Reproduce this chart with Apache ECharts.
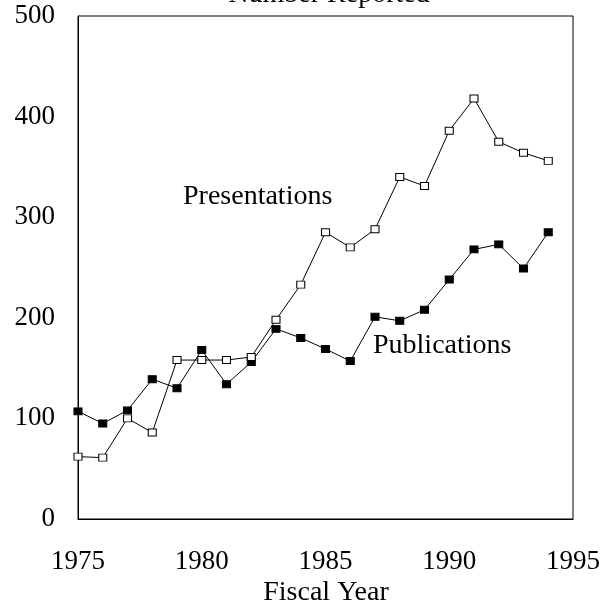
<!DOCTYPE html>
<html>
<head>
<meta charset="utf-8">
<script src="https://cdn.jsdelivr.net/npm/echarts@6/dist/echarts.min.js"></script>
<style>html,body{margin:0;padding:0;background:#fff;}#c{width:605px;height:608px;}</style>
</head>
<body>
<div id="c"></div>
<script>
var years = [1975,1976,1977,1978,1979,1980,1981,1982,1983,1984,1985,1986,1987,1988,1989,1990,1991,1992,1993,1994];
var presentations = [62,61,100,86,158,158,158,161,198,233,285,270,288,340,331,386,418,375,364,356];
var publications = [107,95,108,139,130,168,134,156,189,180,169,157,201,197,208,238,268,273,249,285];
var xTicks = [1975,1980,1985,1990,1995];
var yTicks = [0,100,200,300,400,500];
var titleText = 'Number Reported';
var xTitle = 'Fiscal Year';
var seriesNames = ['Presentations','Publications'];

var FONT = '"Liberation Serif","Times New Roman",serif';
function pairs(v){ return years.map(function(y,i){ return [y, v[i]]; }); }

var chart = echarts.init(document.getElementById('c'), null, {renderer:'canvas'});
chart.setOption({
  backgroundColor:'#fff',
  animation:false,
  grid:{left:78,right:32,top:16,bottom:89,show:true,borderColor:'#000',borderWidth:1,backgroundColor:'transparent'},
  xAxis:{type:'value',min:xTicks[0],max:xTicks[xTicks.length-1],interval:5,
    axisLine:{show:true,lineStyle:{color:'#000',width:1}},axisTick:{show:false},splitLine:{show:false},
    axisLabel:{color:'#000',fontFamily:FONT,fontSize:27,margin:43,verticalAlign:'middle',formatter:function(v){return String(v);}}},
  yAxis:{type:'value',min:yTicks[0],max:yTicks[yTicks.length-1],interval:100,
    axisLine:{show:true,lineStyle:{color:'#000',width:1}},axisTick:{show:false},splitLine:{show:false},
    axisLabel:{color:'#000',fontFamily:FONT,fontSize:27,margin:23}},
  graphic:[
    {type:'text',style:{text:titleText,x:329,y:-5,textAlign:'center',textVerticalAlign:'middle',font:'28px '+FONT,fill:'#000'}},
    {type:'text',style:{text:xTitle,x:326,y:593,textAlign:'center',textVerticalAlign:'middle',font:'28px '+FONT,fill:'#000'}},
    {type:'text',style:{text:seriesNames[0],x:183,y:197,textAlign:'left',textVerticalAlign:'middle',font:'28px '+FONT,fill:'#000'}},
    {type:'text',style:{text:seriesNames[1],x:373,y:346,textAlign:'left',textVerticalAlign:'middle',font:'28px '+FONT,fill:'#000'}}
  ],
  series:[
    {name:seriesNames[0],type:'line',data:pairs(presentations),symbol:'rect',symbolSize:[8,7],showAllSymbol:true,
      lineStyle:{color:'#000',width:1},itemStyle:{color:'#fff',borderColor:'#000',borderWidth:1},z:3},
    {name:seriesNames[1],type:'line',data:pairs(publications),symbol:'rect',symbolSize:[8,7],showAllSymbol:true,
      lineStyle:{color:'#000',width:1},itemStyle:{color:'#000',borderColor:'#000',borderWidth:1},z:2}
  ]
});
</script>
</body>
</html>
